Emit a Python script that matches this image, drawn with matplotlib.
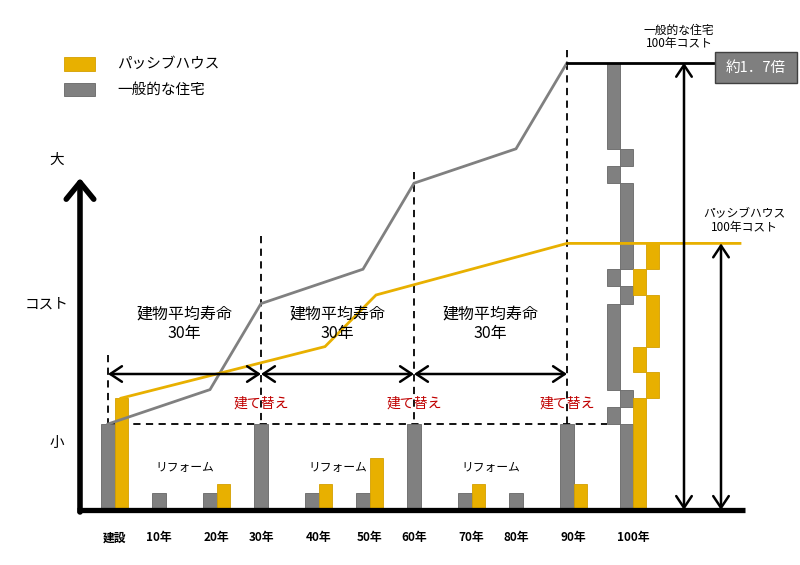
import matplotlib
matplotlib.use('Agg')
import matplotlib.pyplot as plt
from matplotlib.patches import Rectangle
import numpy as np

plt.rcParams['font.family'] = ['Noto Sans CJK JP', 'DejaVu Sans']

# ---------------- data ----------------
years = [0, 10, 20, 30, 40, 50, 60, 70, 80, 90]
tick_labels = ['建設', '10年', '20年', '30年', '40年', '50年', '60年', '70年', '80年', '90年']
total_label = '100年'
general_cost = [100, 20, 20, 100, 20, 20, 100, 20, 20, 100]   # 一般的な住宅
passive_cost = [130, 0, 30, 0, 30, 60, 0, 30, 0, 30]          # パッシブハウス
rebuild_years = [0, 30, 60, 90]
general_line_years = [0, 20, 30, 50, 60, 80, 90]
passive_line_years = [0, 40, 50, 90]
series_names = ['パッシブハウス', '一般的な住宅']
span_label = '建物平均寿命\n30年'
rebuild_label = '建て替え'
reform_label = 'リフォーム'
general_total_label = '一般的な住宅\n100年コスト'
passive_total_label = 'パッシブハウス\n100年コスト'
ratio_label = '約1．7倍'

# ---------------- style / layout ----------------
GRAY = '#808080'
GRAY_EDGE = '#666666'
YELLOW = '#e8b000'
YELLOW_EDGE = '#d4a000'
RED = '#c00000'

X0, SX = 108.0, 5.1     # pixel mapping of the year axis
Y0, SY = 510.0, 0.86    # pixel mapping of the cost axis
def px_x(p): return (p - X0) / SX
def px_y(p): return (Y0 - p) / SY

W = 2.55                # bar width (years)
C100 = px_x(613.5)      # first sub-column of the 100-year stack

fig = plt.figure(figsize=(8, 5.65), dpi=100)
ax = fig.add_axes([0, 0, 1, 1])
ax.set_xlim(px_x(0), px_x(800))
ax.set_ylim(px_y(565), px_y(0))
ax.axis('off')

gcum = np.cumsum(general_cost)
pcum = np.cumsum(passive_cost)
gtotal = gcum[-1]
ptotal = pcum[-1]

# ---- bars per decade ----
ax.bar(years, general_cost, width=W, color=GRAY, edgecolor=GRAY_EDGE, lw=0.6, zorder=3)
pyrs = [y + W for y, v in zip(years, passive_cost) if v > 0]
pval = [v for v in passive_cost if v > 0]
ax.bar(pyrs, pval, width=W, color=YELLOW, edgecolor=YELLOW_EDGE, lw=0.6, zorder=3)

# ---- 100 year stacked (waterfall) columns ----
g_x = [C100 + W if i % 2 == 0 else C100 for i in range(len(general_cost))]
ax.bar(g_x, general_cost, bottom=gcum - np.array(general_cost), width=W,
       color=GRAY, edgecolor=GRAY_EDGE, lw=0.6, zorder=3)
pnz = [(v, c - v) for v, c in zip(passive_cost, pcum) if v > 0]
p_x = [C100 + 2 * W if i % 2 == 0 else C100 + 3 * W for i in range(len(pnz))]
ax.bar(p_x, [v for v, b in pnz], bottom=[b for v, b in pnz], width=W,
       color=YELLOW, edgecolor=YELLOW_EDGE, lw=0.6, zorder=3)

# ---- cumulative lines ----
gl_y = [gcum[years.index(y)] for y in general_line_years]
ax.plot(general_line_years, gl_y, color=GRAY, lw=2, zorder=5, solid_joinstyle='miter')
pl_x = [y + W for y in passive_line_years[:-1]] + [passive_line_years[-1], px_x(740)]
pl_y = [pcum[years.index(y)] for y in passive_line_years] + [ptotal]
ax.plot(pl_x, pl_y, color=YELLOW, lw=2, zorder=5, solid_joinstyle='miter')

# total line for general house
ax.plot([years[-1], px_x(715)], [gtotal, gtotal], color='black', lw=2, zorder=5)

# ---- dashed guides ----
dash_tops_px = [355, 236, 172, 50]
for ry, tp in zip(rebuild_years, dash_tops_px):
    ax.plot([ry, ry], [px_y(tp), general_cost[0]], color='black', lw=1.3,
            dashes=(4, 3), zorder=2)
ax.plot([years[0], C100 - W / 2], [general_cost[0]] * 2, color='black', lw=1.3,
        dashes=(4, 3), zorder=2)

# ---- axes (thick arrows) ----
ax.plot([px_x(77), px_x(745)], [0, 0], color='black', lw=3.8, zorder=6,
        solid_capstyle='butt')
ax.annotate('', xy=(px_x(80), px_y(178)), xytext=(px_x(80), px_y(512)),
            arrowprops=dict(arrowstyle='->,head_width=0.45,head_length=0.55',
                            lw=4, color='black', mutation_scale=22,
                            shrinkA=0, shrinkB=0), zorder=6)

# ---- lifespan double arrows ----
arrow_y = px_y(374)
for a, b in zip(rebuild_years[:-1], rebuild_years[1:]):
    ax.annotate('', xy=(b, arrow_y), xytext=(a, arrow_y),
                arrowprops=dict(arrowstyle='<->,head_width=0.4,head_length=0.6',
                                lw=1.8, color='black', mutation_scale=14,
                                shrinkA=0, shrinkB=0), zorder=6)
    mid = (a + b) / 2
    ax.text(mid, px_y(324), span_label, ha='center', va='center', fontsize=11.5,
            linespacing=1.15, zorder=7)
    ax.text(mid, px_y(467), reform_label, ha='center', va='center', fontsize=8.5,
            zorder=7)
for ry in rebuild_years[1:]:
    ax.text(ry, px_y(404), rebuild_label, ha='center', va='center', fontsize=10,
            color=RED, zorder=7)

# ---- right side total arrows ----
for xp, val in [(684, gtotal), (721, ptotal)]:
    ax.annotate('', xy=(px_x(xp), val), xytext=(px_x(xp), 0),
                arrowprops=dict(arrowstyle='<->,head_width=0.4,head_length=0.6',
                                lw=1.8, color='black', mutation_scale=14,
                                shrinkA=0, shrinkB=0), zorder=6)
ax.text(px_x(679), px_y(37), general_total_label, ha='center', va='center',
        fontsize=8.5, linespacing=1.1)
ax.text(px_x(744), px_y(220), passive_total_label, ha='center', va='center',
        fontsize=8.5, linespacing=1.1)

# ratio box
ax.add_patch(Rectangle((px_x(715), px_y(83)), px_x(797) - px_x(715),
                       px_y(52) - px_y(83), facecolor='#7f7f7f',
                       edgecolor='#404040', lw=1, zorder=6))
ax.text(px_x(756), px_y(67.5), ratio_label, ha='center', va='center',
        fontsize=10.5, color='white', zorder=7)

# ---- tick labels ----
for y, lab, pv in zip(years, tick_labels, passive_cost):
    xx = y + W / 2 if pv > 0 else y
    ax.text(xx, px_y(538), lab, ha='center', va='center', fontsize=8.5,
            fontweight='bold')
ax.text(C100 + 1.5 * W, px_y(538), total_label, ha='center', va='center',
        fontsize=8.5, fontweight='bold')

# ---- y labels ----
ax.text(px_x(57), px_y(160), '大', ha='center', va='center', fontsize=10.5)
ax.text(px_x(47), px_y(305), 'コスト', ha='center', va='center', fontsize=10.5)
ax.text(px_x(57), px_y(443), '小', ha='center', va='center', fontsize=10.5)

# ---- legend ----
for (yt, yb), col, ec, name in [((57, 71), YELLOW, YELLOW_EDGE, series_names[0]),
                                ((83, 96), GRAY, GRAY_EDGE, series_names[1])]:
    ax.add_patch(Rectangle((px_x(64), px_y(yb)), px_x(95) - px_x(64),
                           px_y(yt) - px_y(yb), facecolor=col, edgecolor=ec, lw=0.6))
    ax.text(px_x(117), px_y((yt + yb) / 2), name, ha='left', va='center',
            fontsize=10.5)

fig.savefig('out.png', dpi=100, facecolor='white')
